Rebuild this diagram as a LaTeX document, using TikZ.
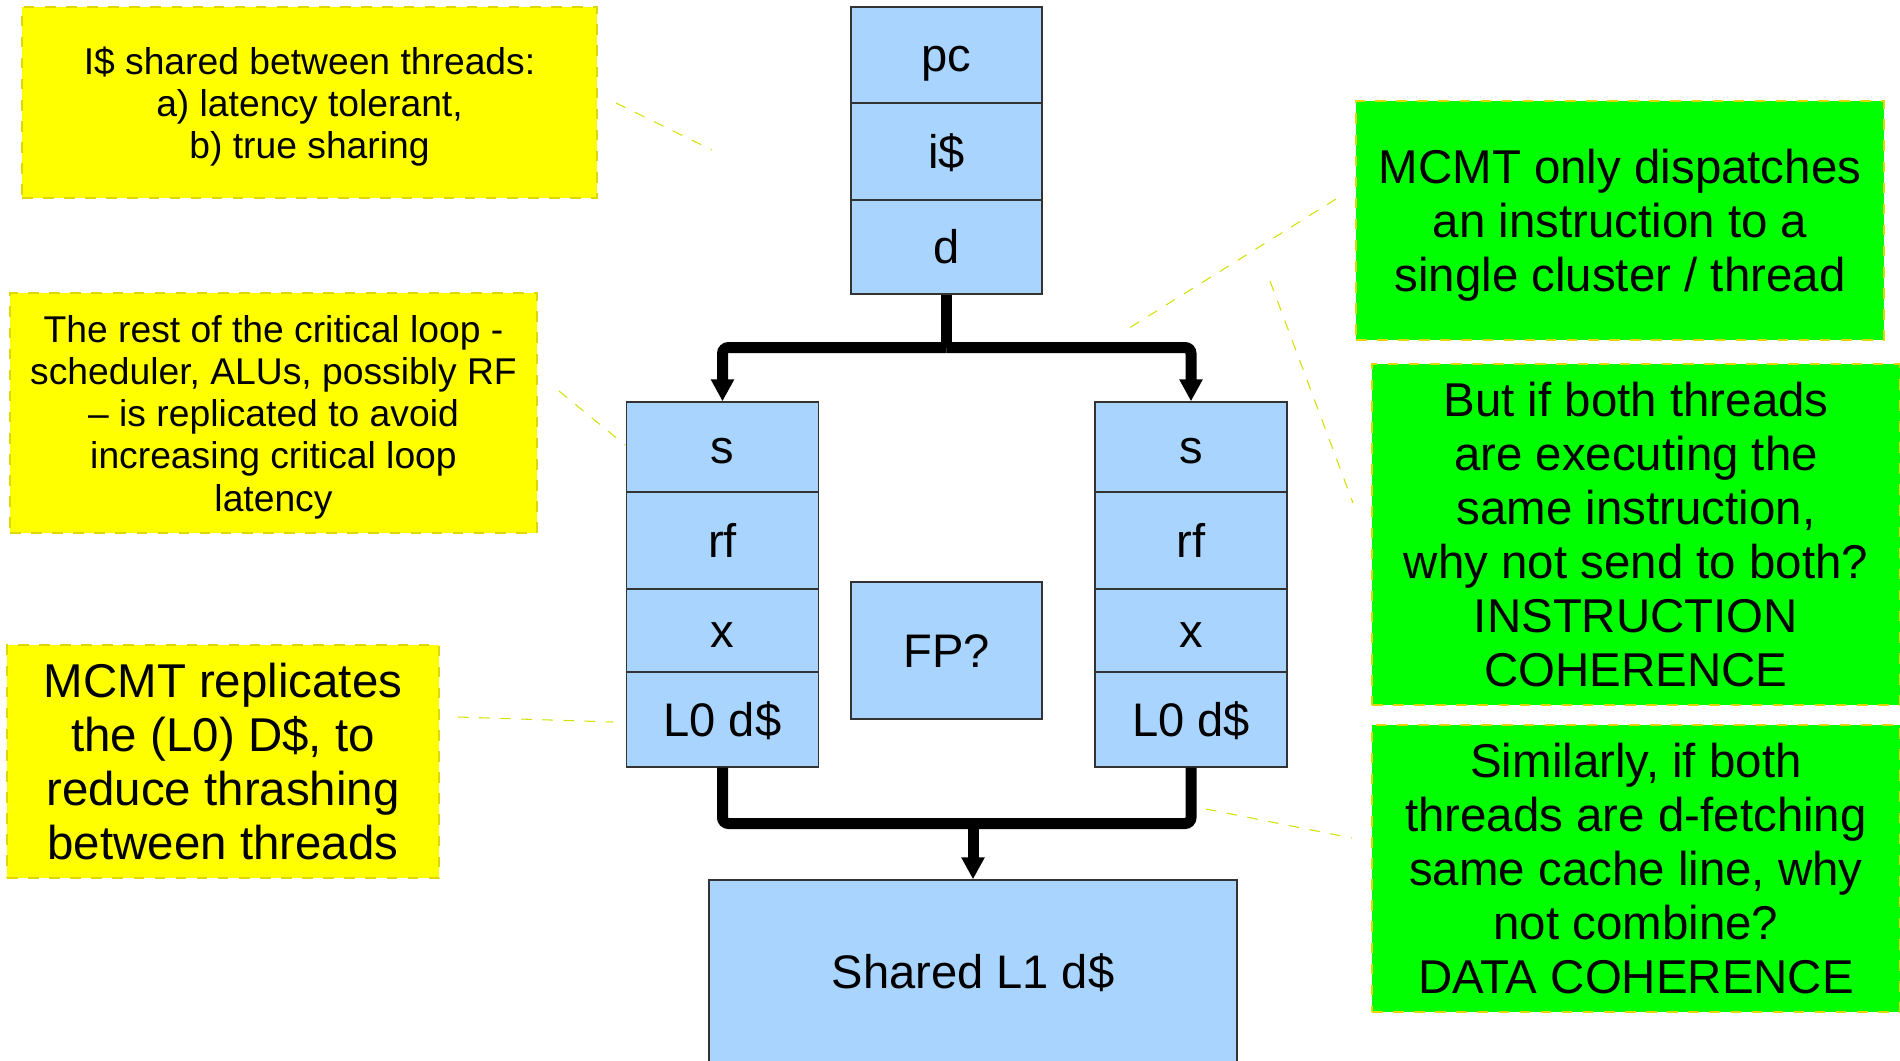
\documentclass[tikz,border=0pt]{standalone}
\usepackage{fontspec}
\setmainfont{Liberation Sans}
\usepackage{xcolor}
\usepackage{tikz}
\usetikzlibrary{arrows.meta}

\definecolor{stageblue}{RGB}{169,212,253}
\definecolor{noteyellow}{RGB}{255,255,0}
\definecolor{notegreen}{RGB}{0,255,0}
\definecolor{noteborder}{RGB}{225,215,0}
\definecolor{pointercol}{RGB}{212,224,0}

\tikzset{
    stage/.style={
        draw=black!80,
        line width=0.4pt,
        fill=stageblue,
        inner sep=0pt,
        text height=12.4pt,
        text depth=2.8pt,
        font=\fontsize{13.4}{16}\selectfont
    },
    note/.style={
        draw=noteborder,
        dashed,
        line width=0.3pt,
        inner sep=0pt,
        align=center
    },
    smallnote/.style={note, fill=noteyellow, font=\fontsize{10.6}{12}\selectfont},
    bignote/.style={note, font=\fontsize{13.5}{15.4}\selectfont},
    bus/.style={line width=1.1mm, rounded corners=0.6mm},
    busarrow/.style={bus, -{Triangle[width=2.2mm,length=2.2mm]}},
    pointer/.style={draw=pointercol, dashed, line width=0.3pt}
}

\begin{document}
\begin{tikzpicture}[x=0.1mm, y=-0.1mm]
                \useasboundingbox (0,0) rectangle (1900,1060);

                % shared front end
                \node[stage, minimum width=19.1mm, minimum height=9.6mm] (pc) at (946.5,55) {pc};
                \node[stage, minimum width=19.1mm, minimum height=9.7mm] (icache) at (946.5,151.5) {i\$};
                \node[stage, minimum width=19.1mm, minimum height=9.4mm] (dec) at (946.5,247) {d};

                % left cluster
                \node[stage, minimum width=19.2mm, minimum height=9.0mm] (sL) at (722.5,447) {s};
                \node[stage, minimum width=19.2mm, minimum height=9.7mm] (rfL) at (722.5,540.5) {rf};
                \node[stage, minimum width=19.2mm, minimum height=8.3mm] (xL) at (722.5,630.5) {x};
                \node[stage, minimum width=19.2mm, minimum height=9.5mm] (lzL) at (722.5,719.5) {L0 d\$};

                % right cluster
                \node[stage, minimum width=19.2mm, minimum height=9.0mm] (sR) at (1191,447) {s};
                \node[stage, minimum width=19.2mm, minimum height=9.7mm] (rfR) at (1191,540.5) {rf};
                \node[stage, minimum width=19.2mm, minimum height=8.3mm] (xR) at (1191,630.5) {x};
                \node[stage, minimum width=19.2mm, minimum height=9.5mm] (lzR) at (1191,719.5) {L0 d\$};

                \node[stage, minimum width=19.1mm, minimum height=13.7mm] (fp) at (946.5,650.5) {FP?};
                \node[stage, text depth=4.8pt, minimum width=52.8mm, minimum height=19.0mm] (lone) at (973,975) {Shared L1 d\$};

                % buses
                \coordinate (split) at (946.5,347.5);
                \coordinate (merge) at (973,823.5);
                \draw[bus] (dec.south) -- (split);
                \draw[busarrow] (split) -| (sL.north);
                \draw[busarrow] (split) -| (sR.north);
                \draw[bus] (lzL.south) |- (merge) -| (lzR.south);
                \draw[busarrow] (merge) -- (lone.north);

                % notes
                \node[smallnote, minimum width=57.5mm, minimum height=19.1mm] (ishared) at (309.5,102.5)
                    {\rule{0pt}{10.3pt}I\$ shared between threads:\\ a) latency tolerant,\\ b) true sharing};
                \node[smallnote, minimum width=52.7mm, minimum height=24.0mm] (loopnote) at (273.5,413)
                    {\rule{0pt}{10pt}The rest of the critical loop -\\ scheduler, ALUs, possibly RF\\ – is replicated to avoid\\ increasing critical loop\\ latency};
                \node[bignote, fill=noteyellow, minimum width=43.2mm, minimum height=23.3mm] (l0note) at (223,761.5)
                    {MCMT replicates\\ the (L0) D\$, to\\ reduce thrashing\\ between threads};
                \node[bignote, fill=notegreen, minimum width=52.8mm, minimum height=23.9mm] (dispnote) at (1620,220.5)
                    {\rule{0pt}{12.6pt}MCMT only dispatches\\ an instruction to a\\ single cluster / thread};
                \node[bignote, fill=notegreen, minimum width=52.8mm, minimum height=34.1mm] (icohnote) at (1636,534.5)
                    {But if both threads\\ are executing the\\ same instruction,\\ why not send to both?\\ INSTRUCTION\\ COHERENCE};
                \node[bignote, fill=notegreen, minimum width=52.8mm, minimum height=28.7mm] (dcohnote) at (1636,868.5)
                    {Similarly, if both\\ threads are d-fetching\\ same cache line, why\\ not combine?\\ DATA COHERENCE};

                % pointers
                \coordinate (p1a) at (616,103);   \coordinate (p1b) at (712,150);
                \coordinate (p2a) at (559,391);   \coordinate (p2b) at (625,445);
                \coordinate (p3a) at (458,717);   \coordinate (p3b) at (613,722);
                \coordinate (p4a) at (1336,199);  \coordinate (p4b) at (1126,330);
                \coordinate (p5a) at (1270,281);  \coordinate (p5b) at (1353,503);
                \coordinate (p6a) at (1206,809);  \coordinate (p6b) at (1352,838);
                \draw[pointer] (p1a) -- (p1b);
                \draw[pointer] (p2a) -- (p2b);
                \draw[pointer] (p3a) -- (p3b);
                \draw[pointer] (p4a) -- (p4b);
                \draw[pointer] (p5a) -- (p5b);
                \draw[pointer] (p6a) -- (p6b);

            \end{tikzpicture}
\end{document}
